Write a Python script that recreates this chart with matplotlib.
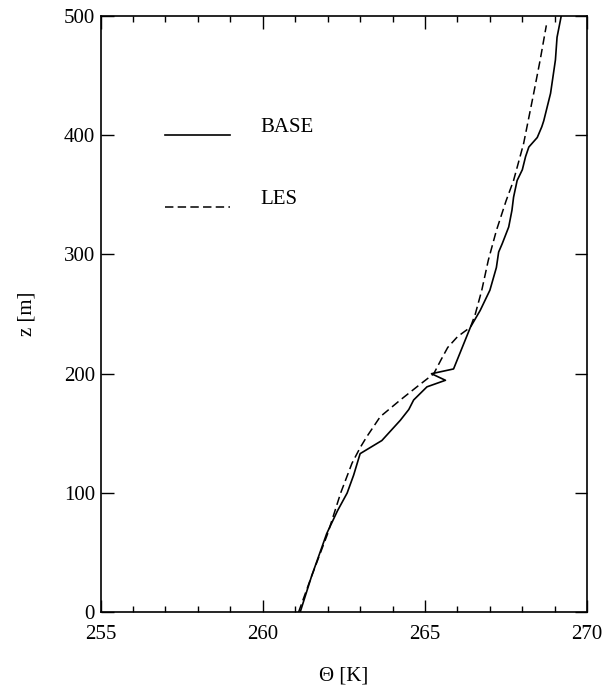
import numpy as np
import matplotlib
matplotlib.use("Agg")
import matplotlib.pyplot as plt
from matplotlib.ticker import MultipleLocator

plt.rcParams['font.family'] = ['Liberation Serif', 'DejaVu Serif']

# potential temperature profiles (theta [K], z [m])
base_theta = [261.15, 261.5, 261.97, 262.3, 262.6, 262.8, 263.0, 263.67, 264.24,
              264.5, 264.65, 265.06, 265.37, 265.63, 265.2, 265.88, 266.4, 266.7,
              267.0, 267.2, 267.27, 267.38, 267.58, 267.68, 267.73, 267.84, 268.0,
              268.1, 268.2, 268.46, 268.6, 268.66, 268.87, 269.02, 269.07, 269.2]
base_z = [0, 30, 66, 85, 100, 115, 133, 144, 161,
          170, 178, 189, 192, 194.5, 200, 204, 239, 253,
          270, 289, 302, 309, 323, 337, 348, 362, 371,
          382, 390, 398, 407, 412, 435, 463, 482, 500]

les_theta = [261.1, 261.5, 262.0, 262.4, 262.75, 263.0, 263.2, 263.62, 264.24,
             264.75, 265.27, 265.5, 265.7, 266.0, 266.4, 266.55, 266.75, 266.95,
             267.2, 267.5, 267.73, 268.04, 268.35, 268.55, 268.74]
les_z = [0, 30, 66, 100, 125, 138, 147, 164, 178,
         189, 200, 212, 222, 231, 239, 250, 270, 295,
         320, 345, 362, 393, 435, 463, 492]

fs = 15

fig = plt.figure(figsize=(6.06, 6.88), dpi=100)
ax = fig.add_axes([0.166, 0.110, 0.803, 0.867])

ax.plot(base_theta, base_z, color='black', lw=1.2)
ax.plot(les_theta, les_z, color='black', lw=1.1, dashes=(5.5, 2.8))

# legend drawn by hand
ax.plot([0.132, 0.266], [0.80, 0.80], color='black', lw=1.2, transform=ax.transAxes)
ax.plot([0.132, 0.266], [0.68, 0.68], color='black', lw=1.1, dashes=(5.5, 2.8),
        transform=ax.transAxes)
ax.text(0.328, 0.812, 'BASE', transform=ax.transAxes, va='center', fontsize=fs)
ax.text(0.328, 0.692, 'LES', transform=ax.transAxes, va='center', fontsize=fs)

ax.set_xlim(255, 270)
ax.set_ylim(0, 500)
ax.xaxis.set_major_locator(MultipleLocator(5))
ax.xaxis.set_minor_locator(MultipleLocator(1))
ax.yaxis.set_major_locator(MultipleLocator(100))
ax.tick_params(which='both', direction='in', top=True, right=True, labelsize=fs)
ax.tick_params(which='major', length=9, width=1.0)
ax.tick_params(which='minor', length=4.5, width=1.0)
ax.tick_params(axis='x', pad=9)
ax.tick_params(axis='y', pad=4)
for s in ax.spines.values():
    s.set_linewidth(1.2)

ax.set_xlabel('Θ [K]', fontsize=fs, labelpad=16)
ax.set_ylabel('z [m]', fontsize=fs, labelpad=20)

fig.savefig('out.png', dpi=100)
